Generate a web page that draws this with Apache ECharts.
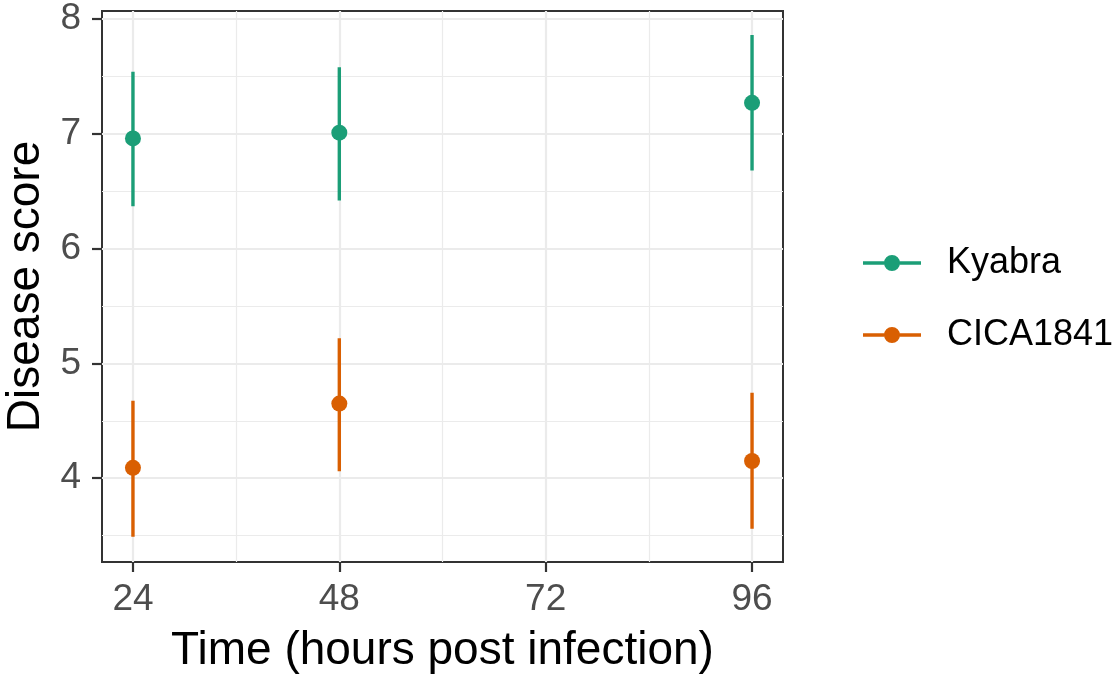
<!DOCTYPE html>
<html><head><meta charset="utf-8">
<script src="https://cdn.jsdelivr.net/npm/echarts@6/dist/echarts.min.js"></script>
<style>html,body{margin:0;padding:0;background:#fff}#c{width:1118px;height:680px}</style>
</head><body><div id="c"></div>
<script>
const times = [24, 48, 96];
const kyabraMean = [6.96, 7.01, 7.27];
const kyabraLow = [6.37, 6.42, 6.68];
const kyabraHigh = [7.54, 7.58, 7.86];
const cicaMean = [4.09, 4.65, 4.15];
const cicaLow = [3.49, 4.06, 3.56];
const cicaHigh = [4.675, 5.22, 4.745];
const xTicks = [24, 48, 72, 96];
const xMinor = [36, 60, 84];
const yTicks = [4, 5, 6, 7, 8];
const yMinor = [3.5, 4.5, 5.5, 6.5, 7.5];
const groups = ['Kyabra', 'CICA1841'];
const colors = ['#1B9E77', '#D95F02'];

const FONT = 'Liberation Sans, Arial, sans-serif';
const chart = echarts.init(document.getElementById('c'));

function gridLines(vals, axis, width) {
  return vals.map(v => ({ [axis]: v, lineStyle: { color: '#EBEBEB', width: width, type: 'solid' } }));
}
// error bars as broken line segments: [t, lo] -> [t, hi], separated by '-'
function errData(lo, hi) {
  const out = [];
  times.forEach((t, i) => { out.push([t, lo[i]], [t, hi[i]], '-'); });
  return out;
}
function errSeries(name, lo, hi, color) {
  return {
    type: 'line', name: name + ' range', z: 3, silent: true, connectNulls: false,
    symbol: 'none', showSymbol: false, legendHoverLink: false,
    data: errData(lo, hi),
    lineStyle: { color: color, width: 3.4, cap: 'butt' },
    itemStyle: { color: color }
  };
}
const iconPath = 'path://M0,6.25 L21.2,6.25 L21.2,9.75 L0,9.75 Z M36.8,6.25 L58,6.25 L58,9.75 L36.8,9.75 Z M21,8 A8,8 0 1,1 37,8 A8,8 0 1,1 21,8 Z';

chart.setOption({
  animation: false,
  backgroundColor: '#fff',
  grid: { left: 102, top: 11, right: 335, bottom: 118, outerBoundsMode: 'none', containLabel: false,
    show: true, borderColor: '#333333', borderWidth: 2, backgroundColor: 'transparent' },
  xAxis: {
    type: 'value', min: 20.4, max: 99.6,
    name: 'Time (hours post infection)', nameLocation: 'middle', nameGap: 66,
    nameTextStyle: { fontFamily: FONT, fontSize: 46, color: '#000' },
    axisLine: { show: false },
    splitLine: { show: false },
    axisTick: { show: true, customValues: xTicks, length: 10, lineStyle: { color: '#333', width: 2.2 } },
    axisLabel: { customValues: xTicks, margin: 19, fontFamily: FONT, fontSize: 37, color: '#4D4D4D' }
  },
  yAxis: {
    type: 'value', min: 3.27, max: 8.07,
    name: 'Disease score', nameLocation: 'middle', nameGap: 51,
    nameTextStyle: { fontFamily: FONT, fontSize: 46, color: '#000' },
    axisLine: { show: false },
    splitLine: { show: false },
    axisTick: { show: true, customValues: yTicks, length: 10, lineStyle: { color: '#333', width: 2.2 } },
    axisLabel: { customValues: yTicks, margin: 21, fontFamily: FONT, fontSize: 37, color: '#4D4D4D' }
  },
  legend: {
    orient: 'vertical', left: 858, top: 240, itemWidth: 58, itemHeight: 16, itemGap: 36,
    icon: iconPath,
    textStyle: { fontFamily: FONT, fontSize: 36, color: '#000', padding: [0, 0, 0, 21] },
    data: groups.map((g, i) => ({ name: g, itemStyle: { color: colors[i] } }))
  },
  series: [
    { type: 'line', data: [], silent: true, z: 1, markLine: { silent: true, symbol: 'none', label: { show: false }, z: 1,
      data: gridLines(xMinor, 'xAxis', 1.2).concat(gridLines(yMinor, 'yAxis', 1.2)).concat(gridLines(xTicks, 'xAxis', 2.2)).concat(gridLines(yTicks, 'yAxis', 2.2)) } },
    errSeries(groups[0], kyabraLow, kyabraHigh, colors[0]),
    errSeries(groups[1], cicaLow, cicaHigh, colors[1]),
    { type: 'scatter', name: groups[0], z: 5, symbol: 'circle', symbolSize: 16, itemStyle: { color: colors[0], opacity: 1, borderWidth: 0 },
      data: times.map((t, i) => [t, kyabraMean[i]]) },
    { type: 'scatter', name: groups[1], z: 5, symbol: 'circle', symbolSize: 16, itemStyle: { color: colors[1], opacity: 1, borderWidth: 0 },
      data: times.map((t, i) => [t, cicaMean[i]]) }
  ]
});
</script></body></html>
